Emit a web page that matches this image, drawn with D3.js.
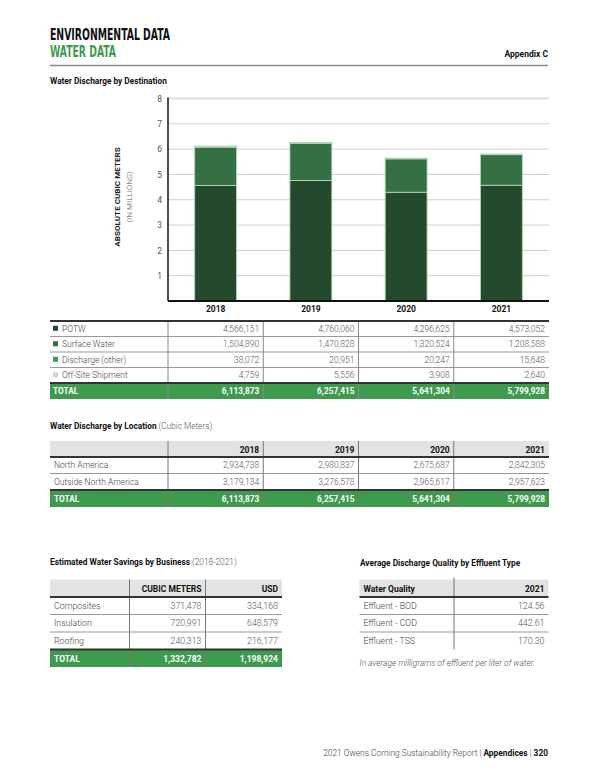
<!DOCTYPE html>
<html>
<head>
<meta charset="utf-8">
<script src="https://cdn.jsdelivr.net/npm/d3@7"></script>
<style>
  html, body { margin: 0; padding: 0; background: #fff; }
  svg { display: block; font-family: Roboto, "Open Sans", sans-serif; }
</style>
</head>
<body>
<svg id="page" width="600" height="776"></svg>
<script>
// ---------- DATA ----------
const years = ["2018", "2019", "2020", "2021"];
const seriesNames = ["POTW", "Surface Water", "Discharge (other)", "Off-Site Shipment"];
const potw = [4566151, 4760060, 4296625, 4573052];
const surfaceWater = [1504890, 1470828, 1320524, 1208588];
const dischargeOther = [38072, 20951, 20247, 15648];
const offSite = [4759, 5556, 3908, 2640];
const destTotals = [6113873, 6257415, 5641304, 5799928];
const yTicks = [1, 2, 3, 4, 5, 6, 7, 8];

const locations = ["North America", "Outside North America"];
const northAmerica = [2934738, 2980837, 2675687, 2842305];
const outsideNA = [3179134, 3276578, 2965617, 2957623];
const locTotals = [6113873, 6257415, 5641304, 5799928];

const businesses = ["Composites", "Insulation", "Roofing"];
const savingsM3 = [371478, 720991, 240313];
const savingsUSD = [334168, 648579, 216177];
const savingsTotals = [1332782, 1198924];

const effluents = ["Effluent - BOD", "Effluent - COD", "Effluent - TSS"];
const effluent2021 = ["124.56", "442.61", "170.30"];

// ---------- STYLE ----------
const colors = ["#234a2d", "#356f44", "#3f9a50", "#c9d9cc"];
const totalGreen = "#3e9a4d";
const fmt = d3.format(",");
const svg = d3.select("#page");
svg.append("rect").attr("width", 600).attr("height", 776).attr("fill", "#fff");

// ---------- HEADER ----------
svg.append("text").attr("x", 50).attr("y", 40)
  .attr("font-family", "'Liberation Sans Narrow', 'DejaVu Sans Condensed', sans-serif")
  .attr("font-weight", 700).attr("font-size", 15).attr("fill", "#111")
  .attr("textLength", 120).attr("lengthAdjust", "spacingAndGlyphs")
  .text("ENVIRONMENTAL DATA");
svg.append("text").attr("x", 50).attr("y", 56.5)
  .attr("font-family", "'Liberation Sans Narrow', 'DejaVu Sans Condensed', sans-serif")
  .attr("font-weight", 700).attr("font-size", 15.5).attr("fill", "#3f9a50")
  .attr("textLength", 66).attr("lengthAdjust", "spacingAndGlyphs")
  .text("WATER DATA");
svg.append("text").attr("x", 548).attr("y", 57).attr("text-anchor", "end")
  .attr("font-weight", 700).attr("font-size", 8.5).attr("fill", "#111").text("Appendix C");
svg.append("line").attr("x1", 50).attr("x2", 548).attr("y1", 65.5).attr("y2", 65.5)
  .attr("stroke", "#8a8a8a").attr("stroke-width", 1.5);
svg.append("text").attr("x", 50).attr("y", 83.5)
  .attr("font-weight", 700).attr("font-size", 8.3).attr("fill", "#111")
  .text("Water Discharge by Destination");

// ---------- CHART ----------
const x0 = 168, x1 = 549, yTop = 98.5, yBase = 301;
const x = d3.scaleBand().domain(years).range([x0, x1]).paddingInner(0.56).paddingOuter(0.28);
const cols = d3.scaleBand().domain(years).range([x0, x1]);
const y = d3.scaleLinear().domain([0, 8]).range([yBase, yTop]);

// gridlines
svg.append("g").selectAll("line").data(yTicks).join("line")
  .attr("x1", x0).attr("x2", x1)
  .attr("y1", d => y(d)).attr("y2", d => y(d))
  .attr("stroke", d => d === 8 ? "#dedede" : "#cfcfcf")
  .attr("stroke-width", d => d === 8 ? 2 : 1);

// y axis labels
const yAxis = d3.axisLeft(y).tickValues(yTicks).tickSize(0).tickPadding(6).tickFormat(d3.format("d"));
const gy = svg.append("g").attr("transform", `translate(${x0},0)`).call(yAxis);
gy.select(".domain").remove();
gy.selectAll("text").attr("font-size", 8.5).attr("fill", "#555").attr("font-family", "Roboto, sans-serif");

// stacked bars
const rows = years.map((yr, i) => ({
  year: yr, "POTW": potw[i] / 1e6, "Surface Water": surfaceWater[i] / 1e6,
  "Discharge (other)": dischargeOther[i] / 1e6, "Off-Site Shipment": offSite[i] / 1e6
}));
const stack = d3.stack().keys(seriesNames)(rows);
svg.append("g").selectAll("g").data(stack).join("g")
  .attr("fill", (d, i) => colors[i])
  .selectAll("rect").data(d => d).join("rect")
  .attr("x", d => x(d.data.year))
  .attr("width", x.bandwidth())
  .attr("y", d => y(d[1]))
  .attr("height", d => y(d[0]) - y(d[1]))
  .attr("stroke", "#b3d4b9").attr("stroke-width", 0.9);

// axes lines
svg.append("line").attr("x1", x0).attr("x2", x0).attr("y1", yTop - 1).attr("y2", yBase)
  .attr("stroke", "#111").attr("stroke-width", 1.5);
svg.append("line").attr("x1", x0).attr("x2", x1).attr("y1", yBase).attr("y2", yBase)
  .attr("stroke", "#111").attr("stroke-width", 2);

// x axis labels (year header)
const xAxis = d3.axisBottom(x).tickSize(0).tickPadding(0);
const gx = svg.append("g").attr("transform", `translate(0,${yBase + 5})`).call(xAxis);
gx.select(".domain").remove();
gx.selectAll("text").attr("font-size", 8.5).attr("font-weight", 700).attr("fill", "#111")
  .attr("font-family", "Roboto, sans-serif");

// y axis title
svg.append("text").attr("transform", "translate(120,197) rotate(-90)")
  .attr("text-anchor", "middle").attr("font-weight", 700).attr("font-size", 8.1).attr("fill", "#222")
  .text("ABSOLUTE CUBIC METERS");
svg.append("text").attr("transform", "translate(132,197) rotate(-90)")
  .attr("text-anchor", "middle").attr("font-weight", 300).attr("font-size", 8.1).attr("fill", "#555")
  .text("(IN MILLIONS)");

// ---------- helpers ----------
function hline(xa, xb, yy, color, w) {
  svg.append("line").attr("x1", xa).attr("x2", xb).attr("y1", yy).attr("y2", yy)
    .attr("stroke", color).attr("stroke-width", w);
}
function vline(xx, ya, yb, color, w) {
  svg.append("line").attr("x1", xx).attr("x2", xx).attr("y1", ya).attr("y2", yb)
    .attr("stroke", color).attr("stroke-width", w);
}
function txt(xx, yy, s, opts = {}) {
  return svg.append("text").attr("x", xx).attr("y", yy)
    .attr("text-anchor", opts.anchor || "start")
    .attr("font-size", opts.size || 8.5)
    .attr("font-weight", opts.weight || 300)
    .attr("font-style", opts.style || "normal")
    .attr("fill", opts.fill || "#444")
    .text(s);
}

// ---------- TABLE 1 ----------
const L = 50, R = 549;
const t1Series = [potw, surfaceWater, dischargeOther, offSite];
const t1Top = 321, t1Row = 15.5;
const t1Bottom = t1Top + t1Row * 4;
svg.append("rect").attr("x", L).attr("y", t1Bottom).attr("width", R - L).attr("height", 16).attr("fill", totalGreen);
for (let r = 1; r < 4; r++) hline(L, R, t1Top + r * t1Row, "#999", 1);
years.forEach((yr, i) => vline(cols(yr), t1Top, t1Bottom + 16, "#888", 1));
hline(L, R, t1Top, "#333", 2);
hline(L, R, t1Bottom, "#333", 2);
seriesNames.forEach((name, r) => {
  const cy = t1Top + r * t1Row + t1Row / 2 + 3;
  svg.append("rect").attr("x", 53).attr("y", cy - 6).attr("width", 5).attr("height", 5).attr("fill", colors[r]);
  txt(62, cy, name);
  years.forEach((yr, i) => txt(cols(yr) + cols.bandwidth() - 4, cy, fmt(t1Series[r][i]), { anchor: "end", fill: "#555" }));
});
txt(53, t1Bottom + 11, "TOTAL", { weight: 700, fill: "#fff", size: 8.3 });
years.forEach((yr, i) => txt(cols(yr) + cols.bandwidth() - 4, t1Bottom + 11, fmt(destTotals[i]), { anchor: "end", weight: 700, fill: "#fff", size: 8.3 }));

// ---------- TABLE 2 ----------
const t2Title = svg.append("text").attr("x", 50).attr("y", 428.5).attr("font-size", 8.3).attr("fill", "#111");
t2Title.append("tspan").attr("font-weight", 700).text("Water Discharge by Location");
t2Title.append("tspan").attr("font-weight", 300).attr("fill", "#555").text(" (Cubic Meters)");
const t2HeadTop = 441, t2Top = 457, t2Row = 16.5;
const t2Bottom = t2Top + t2Row * 2;
svg.append("rect").attr("x", L).attr("y", t2HeadTop).attr("width", R - L).attr("height", t2Top - t2HeadTop).attr("fill", "#e3e3e3");
svg.append("rect").attr("x", L).attr("y", t2Bottom).attr("width", R - L).attr("height", 17).attr("fill", totalGreen);
hline(L, R, t2Top + t2Row, "#999", 1);
years.forEach((yr, i) => vline(cols(yr), t2HeadTop, t2Bottom + 17, "#777", 1));
hline(L, R, t2Top, "#333", 2);
hline(L, R, t2Bottom, "#333", 2);
years.forEach((yr, i) => txt(cols(yr) + cols.bandwidth() - 4, t2HeadTop + 11.5, yr, { anchor: "end", weight: 700, fill: "#111" }));
const t2Series = [northAmerica, outsideNA];
locations.forEach((name, r) => {
  const cy = t2Top + r * t2Row + t2Row / 2 + 3;
  txt(54, cy, name);
  years.forEach((yr, i) => txt(cols(yr) + cols.bandwidth() - 4, cy, fmt(t2Series[r][i]), { anchor: "end", fill: "#555" }));
});
txt(54, t2Bottom + 11.5, "TOTAL", { weight: 700, fill: "#fff", size: 8.3 });
years.forEach((yr, i) => txt(cols(yr) + cols.bandwidth() - 4, t2Bottom + 11.5, fmt(locTotals[i]), { anchor: "end", weight: 700, fill: "#fff", size: 8.3 }));

// ---------- TABLE 3 ----------
const t3Title = svg.append("text").attr("x", 50).attr("y", 565).attr("font-size", 8.3).attr("fill", "#111");
t3Title.append("tspan").attr("font-weight", 700).text("Estimated Water Savings by Business");
t3Title.append("tspan").attr("font-weight", 300).attr("fill", "#555").text(" (2018-2021)");
const t3L = 50, t3R = 282, t3C1 = 129.5, t3C2 = 205.5;
const t3HeadTop = 579.5, t3Top = 597, t3Row = 17.5;
const t3Bottom = t3Top + t3Row * 3;
svg.append("rect").attr("x", t3L).attr("y", t3HeadTop).attr("width", t3R - t3L).attr("height", t3Top - t3HeadTop).attr("fill", "#e3e3e3");
svg.append("rect").attr("x", t3L).attr("y", t3Bottom).attr("width", t3R - t3L).attr("height", 17.5).attr("fill", totalGreen);
for (let r = 1; r < 3; r++) hline(t3L, t3R, t3Top + r * t3Row, "#999", 1);
vline(t3C1, t3HeadTop, t3Bottom + 17.5, "#777", 1);
vline(t3C2, t3HeadTop, t3Bottom + 17.5, "#777", 1);
hline(t3L, t3R, t3Top, "#333", 2);
hline(t3L, t3R, t3Bottom, "#333", 2);
txt(t3C2 - 4, t3HeadTop + 12, "CUBIC METERS", { anchor: "end", weight: 700, fill: "#111", size: 8.5 });
txt(t3R - 4, t3HeadTop + 12, "USD", { anchor: "end", weight: 700, fill: "#111", size: 8.5 });
businesses.forEach((name, r) => {
  const cy = t3Top + r * t3Row + t3Row / 2 + 3.2;
  txt(54, cy, name, { size: 8.8 });
  txt(t3C2 - 4, cy, fmt(savingsM3[r]), { anchor: "end", fill: "#555", size: 8.8 });
  txt(t3R - 4, cy, fmt(savingsUSD[r]), { anchor: "end", fill: "#555", size: 8.8 });
});
txt(54, t3Bottom + 12, "TOTAL", { weight: 700, fill: "#fff", size: 8.5 });
txt(t3C2 - 4, t3Bottom + 12, fmt(savingsTotals[0]), { anchor: "end", weight: 700, fill: "#fff", size: 8.5 });
txt(t3R - 4, t3Bottom + 12, fmt(savingsTotals[1]), { anchor: "end", weight: 700, fill: "#fff", size: 8.5 });

// ---------- TABLE 4 ----------
txt(360, 565.5, "Average Discharge Quality by Effluent Type", { weight: 700, fill: "#111", size: 8.3 });
const t4L = 359.5, t4R = 548.5, t4C = 454;
const t4HeadTop = 579.5, t4Top = 597, t4Row = 17.5;
svg.append("rect").attr("x", t4L).attr("y", t4HeadTop).attr("width", t4R - t4L).attr("height", t4Top - t4HeadTop).attr("fill", "#e3e3e3");
for (let r = 1; r < 3; r++) hline(t4L, t4R, t4Top + r * t4Row, "#999", 1);
vline(t4C, t4HeadTop - 2, t4Top + 3 * t4Row, "#777", 1);
hline(t4L, t4R, t4Top, "#333", 2);
txt(363.5, t4HeadTop + 12, "Water Quality", { weight: 700, fill: "#111", size: 8.5 });
txt(t4R - 4, t4HeadTop + 12, "2021", { anchor: "end", weight: 700, fill: "#111", size: 8.5 });
effluents.forEach((name, r) => {
  const cy = t4Top + r * t4Row + t4Row / 2 + 3.2;
  txt(363.5, cy, name, { size: 8.8 });
  txt(t4R - 4, cy, effluent2021[r], { anchor: "end", fill: "#555", size: 8.8 });
});
txt(359.5, 666, "In average milligrams of effluent per liter of water.", { style: "italic", fill: "#555", size: 8.4 });

// ---------- FOOTER ----------
const foot = svg.append("text").attr("x", 548).attr("y", 756).attr("text-anchor", "end")
  .attr("font-size", 8.4).attr("fill", "#444");
foot.append("tspan").attr("font-weight", 300).text("2021 Owens Corning Sustainability Report | ");
foot.append("tspan").attr("font-weight", 700).attr("fill", "#111").text("Appendices");
foot.append("tspan").attr("font-weight", 300).text(" | ");
foot.append("tspan").attr("font-weight", 700).attr("fill", "#111").text("320");
</script>
</body>
</html>
